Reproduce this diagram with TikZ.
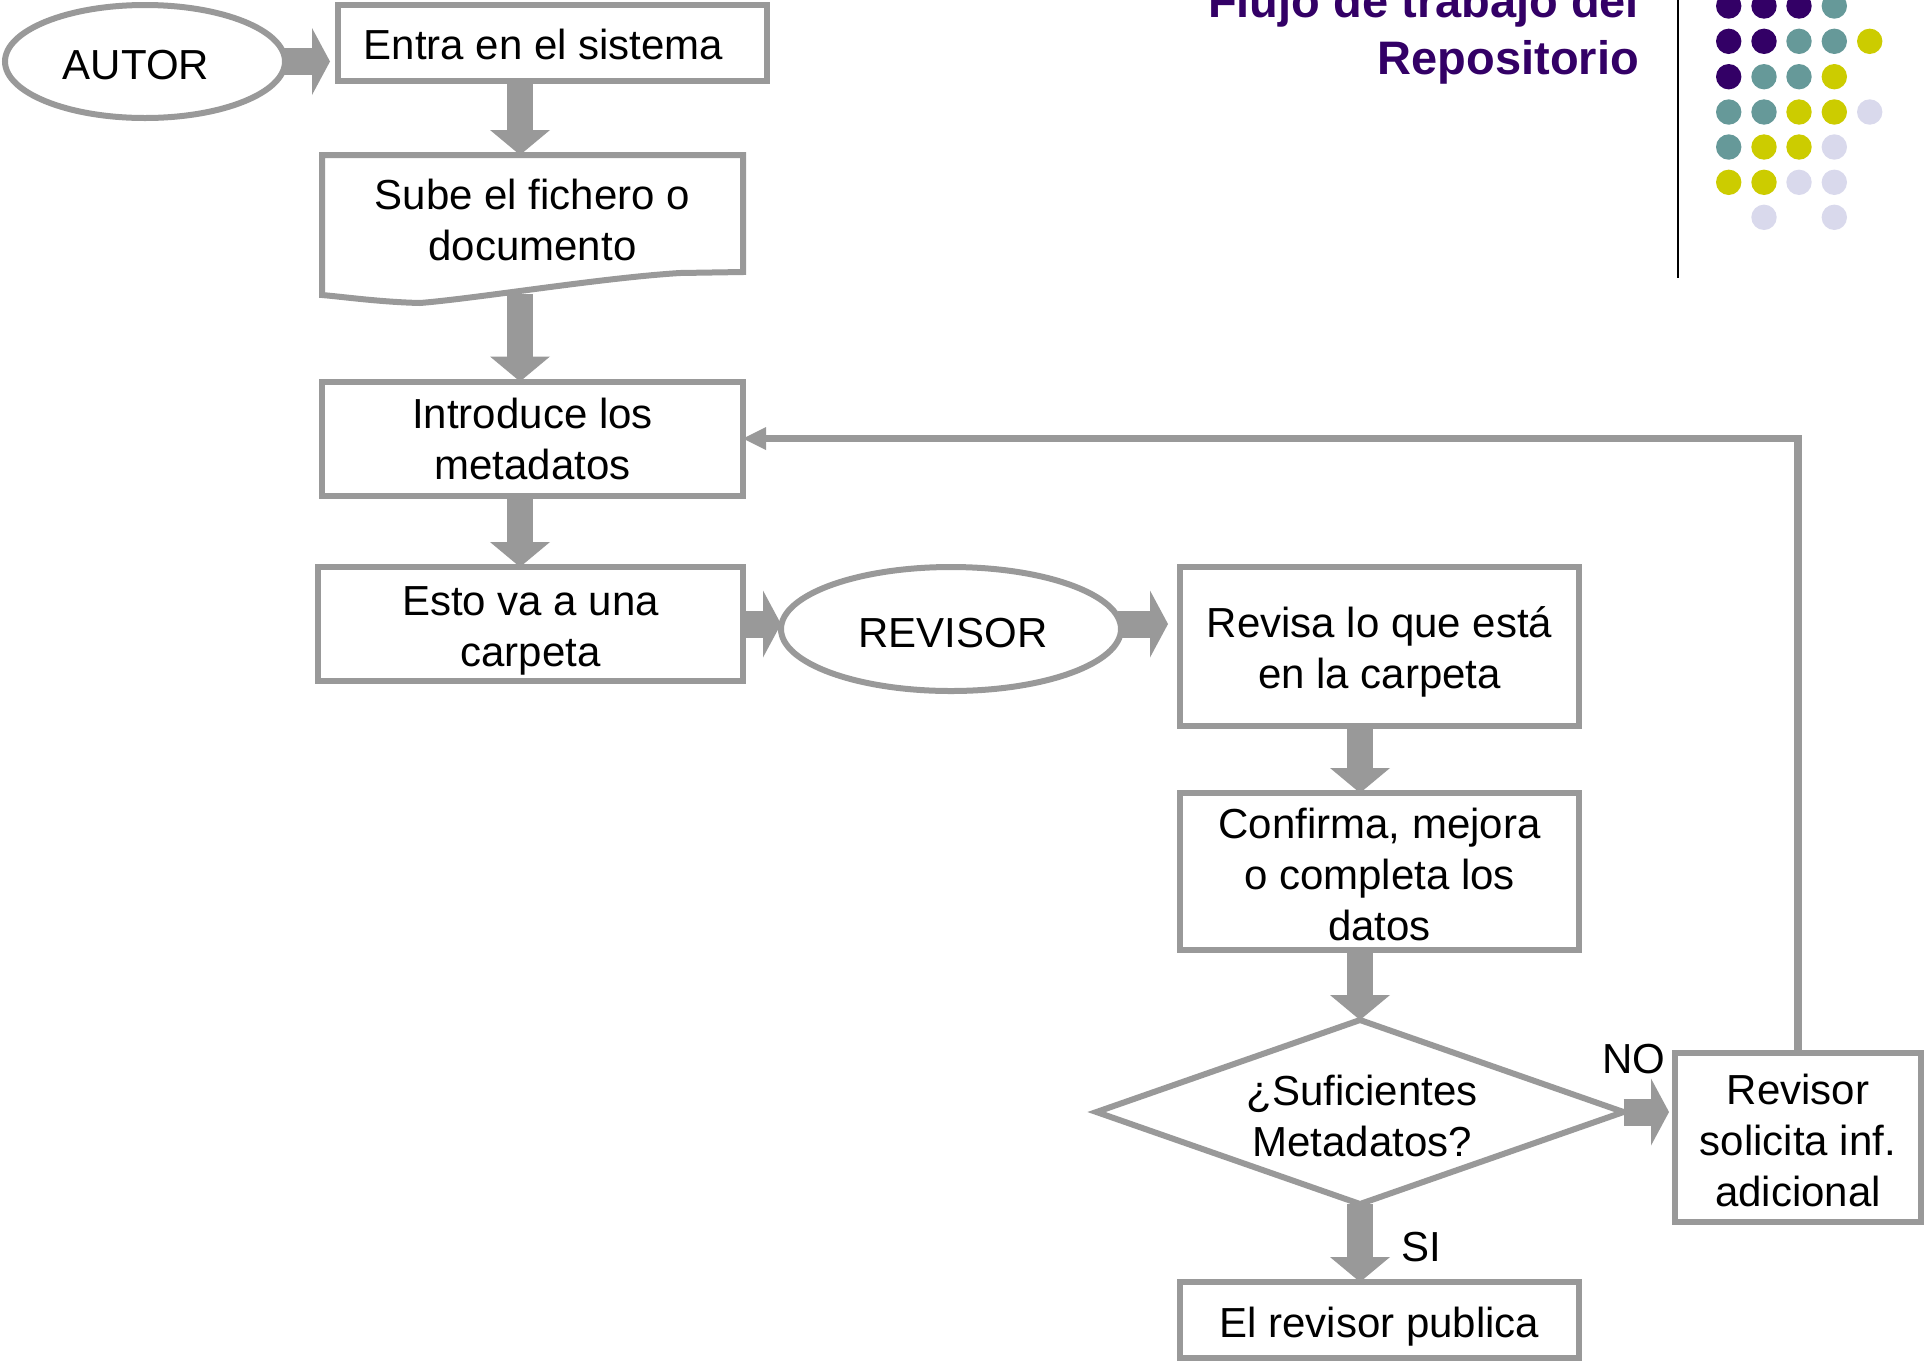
\documentclass[tikz,border=0pt]{standalone}
\usepackage{fontspec}
\setmainfont{Liberation Sans}
\usetikzlibrary{shapes.geometric,arrows.meta}
\definecolor{gr}{HTML}{999999}
\definecolor{ttl}{HTML}{330066}
\definecolor{dP}{HTML}{330066}
\definecolor{dT}{HTML}{669999}
\definecolor{dY}{HTML}{CCCC00}
\definecolor{dL}{HTML}{D9D9EC}
\newcommand\fz{\fontsize{21pt}{25.5pt}\selectfont}
\tikzset{
  box/.style={draw=gr, line width=3pt, fill=white, inner sep=0pt, outer sep=0pt, align=center, font=\fz},
  ebox/.style={box, ellipse},
  plain/.style={inner sep=0pt, outer sep=0pt, align=center, font=\fz},
  hblock/.style={draw=gr, line width=13.5pt, -{Triangle[width=33.5pt,length=9pt,line width=0pt]}},
  vblock/.style={draw=gr, line width=13pt, -{Triangle[width=30pt,length=12.5pt,line width=0pt]}},
  thinarrow/.style={draw=gr, line width=3.75pt, -{Triangle[width=11.5pt,length=11.5pt,line width=0pt]}},
}
\begin{document}
\begin{tikzpicture}[x=0.5pt,y=-0.5pt]
\useasboundingbox (0,0) rectangle (1925,1361);

% title and decoration
\node[inner sep=0pt, outer sep=0pt, align=right, anchor=south east, text=ttl,
      font=\bfseries\fontsize{23.5pt}{28.5pt}\selectfont] (title) at (1639,84)
      {Flujo de trabajo del\\Repositorio};
\draw[black, line width=1pt] (1678,0) -- (1678,278);
\foreach \xx/\yy/\cc in {
  1728.7/6/dP, 1764/6/dP, 1799/6/dP, 1834.3/6/dT,
  1728.7/41.3/dP, 1764/41.3/dP, 1799/41.3/dT, 1834.3/41.3/dT, 1869.7/41.3/dY,
  1728.7/76.7/dP, 1764/76.7/dT, 1799/76.7/dT, 1834.3/76.7/dY,
  1728.7/112/dT, 1764/112/dT, 1799/112/dY, 1834.3/112/dY, 1869.7/112/dL,
  1728.7/147/dT, 1764/147/dY, 1799/147/dY, 1834.3/147/dL,
  1728.7/182.3/dY, 1764/182.3/dY, 1799/182.3/dL, 1834.3/182.3/dL,
  1764/217.3/dL, 1834.3/217.3/dL}
  \fill[\cc] (\xx,\yy) circle[radius=6.35pt];

% nodes
\node[ebox, minimum width=140pt, minimum height=56.5pt,
      label={[plain, xshift=-4.5pt, yshift=-2pt]center:{AUTOR}}] (autor) at (145,61.5) {};
\node[box, minimum width=214.5pt, minimum height=38pt,
      label={[plain, xshift=-4.5pt, yshift=-0.5pt]center:{Entra en el sistema}}] (entra) at (552.5,43) {};
\draw[draw=gr, line width=3pt, fill=white, line join=miter]
  (322,155) -- (743,155) -- (743,272) -- (680,273)
  .. controls (600,278) and (480,298) .. (420,303)
  .. controls (380,302) and (345,297) .. (322,295) -- cycle;
\node[plain, minimum width=210.5pt, minimum height=65pt] (sube) at (532.5,220) {Sube el fichero o\\documento};
\coordinate (subebot) at (520,294);
\coordinate (colA) at (520,0);
\node[box, minimum width=210.5pt, minimum height=57pt] (intro) at (532.5,438.5) {Introduce los\\metadatos};
\node[box, minimum width=212.5pt, minimum height=57pt,
      label={[plain, yshift=-3.5pt]center:{Esto va a una\\carpeta}}] (esto) at (530.5,624) {};
\node[ebox, minimum width=170pt, minimum height=62pt,
      label={[plain, xshift=1pt, yshift=-2pt]center:{REVISOR}}] (revisor) at (951,629) {};
\node[box, minimum width=199.5pt, minimum height=79.5pt,
      label={[plain, yshift=-2.5pt]center:{Revisa lo que está\\en la carpeta}}] (revisa) at (1379.5,646.5) {};
\node[box, minimum width=199.5pt, minimum height=78.5pt,
      label={[plain, yshift=-1.5pt]center:{Confirma, mejora\\o completa los\\datos}}] (confirma) at (1379.5,871.5) {};
\node[draw=gr, line width=3pt, fill=white, diamond, inner sep=0pt, outer sep=0pt,
      minimum width=263.5pt, minimum height=92pt] (dia) at (1360,1112) {};
\node[plain] (diatext) at (1362,1116) {¿Suficientes\\Metadatos?};
\node[box, minimum width=123pt, minimum height=84.5pt,
      label={[plain, yshift=-1.5pt]center:{Revisor\\solicita inf.\\adicional}}] (revisor2) at (1798,1137.5) {};
\node[box, minimum width=199.5pt, minimum height=38pt,
      label={[plain, yshift=-3.5pt]center:{El revisor publica}}] (pub) at (1379.5,1320) {};

% labels
\node[plain] (no) at (1634,1059) {NO};
\node[plain] (si) at (1421,1247) {SI};

% connectors
\draw[hblock, shorten >=4pt] ([xshift=-1.5pt]autor.east) -- (autor.east -| entra.west);
\draw[vblock] (entra.south -| colA) -- (sube.north -| colA);
\draw[vblock] (subebot) -- (intro.north -| colA);
\draw[vblock] (intro.south -| colA) -- (esto.north -| colA);
\draw[hblock] (esto.east) -- (esto.east -| revisor.west);
\draw[hblock, shorten >=6pt] ([xshift=-1.5pt]revisor.east |- esto.east) -- (revisa.west |- esto.east);
\draw[vblock] (revisa.south -| dia.north) -- (confirma.north -| dia.north);
\draw[vblock] (confirma.south -| dia.north) -- (dia.north);
\draw[hblock, shorten >=3pt] (dia.east) -- (revisor2.west |- dia.east);
\draw[vblock] (dia.south) -- (pub.north -| dia.south);
\draw[thinarrow] (revisor2.north) |- (intro.east);
\end{tikzpicture}
\end{document}
